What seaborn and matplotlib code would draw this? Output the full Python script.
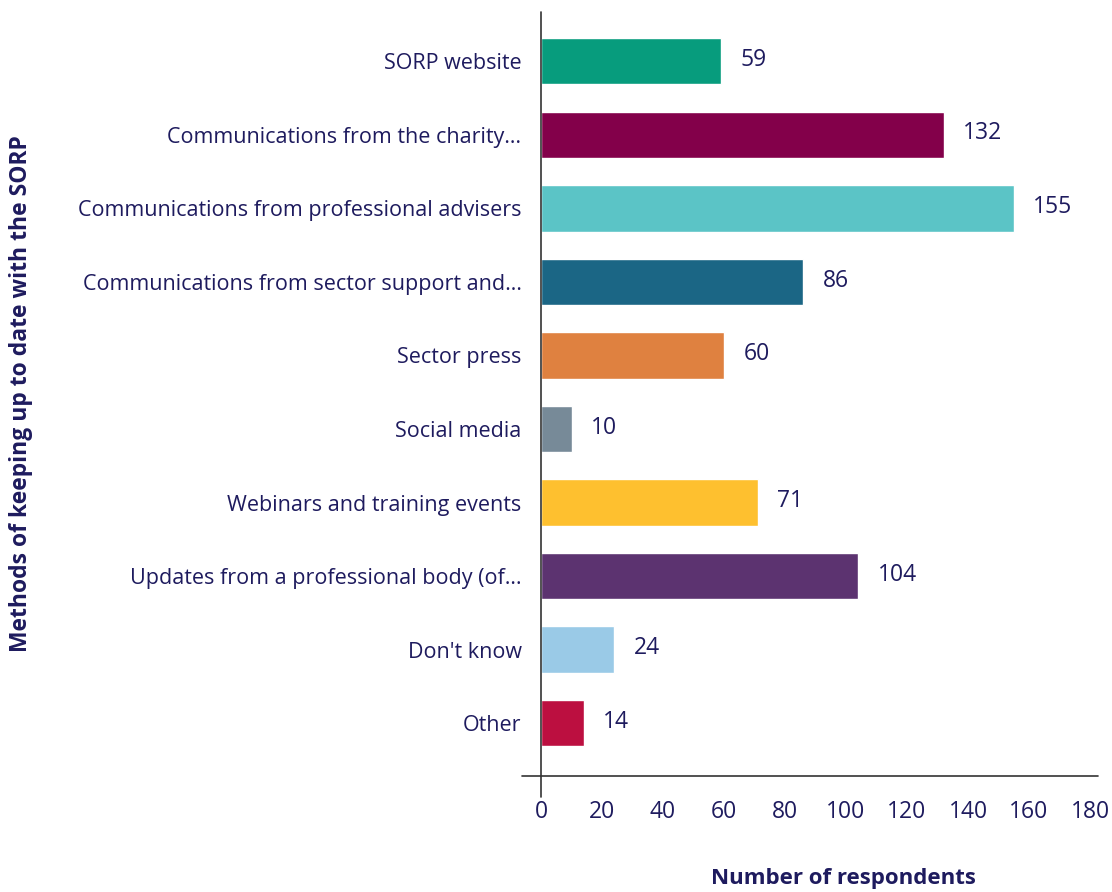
import matplotlib
matplotlib.use("Agg")
import matplotlib.pyplot as plt
import seaborn as sns
import pandas as pd

methods = ["SORP website",
           "Communications from the charity\u2026",
           "Communications from professional advisers",
           "Communications from sector support and\u2026",
           "Sector press",
           "Social media",
           "Webinars and training events",
           "Updates from a professional body (of\u2026",
           "Don't know",
           "Other"]
respondents = [59, 132, 155, 86, 60, 10, 71, 104, 24, 14]
bar_colours = ["#079C7D", "#83004A", "#5BC4C6", "#1B6685", "#DF8140",
               "#778A98", "#FEC02F", "#5C3370", "#9ACAE7", "#BC0F40"]
xticks = [0, 20, 40, 60, 80, 100, 120, 140, 160, 180]

navy = "#1E1B5E"

sns.set_theme(style="white")
plt.rcParams['font.family'] = ['Open Sans', 'DejaVu Sans']

df = pd.DataFrame({"method": methods, "n": respondents})

fig = plt.figure(figsize=(11.12, 8.92), dpi=100)
ax = fig.add_axes([541 / 1112, 0.13, 549 / 1112, 0.8565])

sns.barplot(data=df, x="n", y="method", hue="method", palette=bar_colours,
            legend=False, width=0.63, saturation=1, ax=ax)

ax.set_xlim(0, 180)
ax.set_ylim(9.72, -0.67)
ax.set_xticks(xticks)
ax.set_xticklabels([str(t) for t in xticks])
ax.tick_params(axis="x", length=0, pad=17, labelsize=16.5, labelcolor=navy)
ax.tick_params(axis="y", length=0, pad=14, labelsize=15.5, labelcolor=navy)

for s in ax.spines.values():
    s.set_visible(False)
# axis lines crossing at the origin, as in the original chart
ax.plot([-0.034, 1.015], [0, 0], transform=ax.transAxes, color="#333333",
        lw=1.2, clip_on=False)
ax.plot([0, 0], [-0.028, 1], transform=ax.transAxes, color="#333333",
        lw=1.2, clip_on=False)

for i, v in enumerate(respondents):
    ax.annotate(str(v), (v, i), xytext=(14, 1), textcoords="offset points",
                va="center", ha="left", fontsize=16.5, color=navy)

ax.set_xlabel("Number of respondents", fontsize=16, fontweight="bold",
              color=navy)
ax.xaxis.set_label_coords(0.55, -0.12)
ax.set_ylabel("Methods of keeping up to date with the SORP", fontsize=16.5,
              fontweight="bold", color=navy)
ax.yaxis.set_label_coords(-0.925, 0.5)

fig.savefig("out.png", dpi=100)
